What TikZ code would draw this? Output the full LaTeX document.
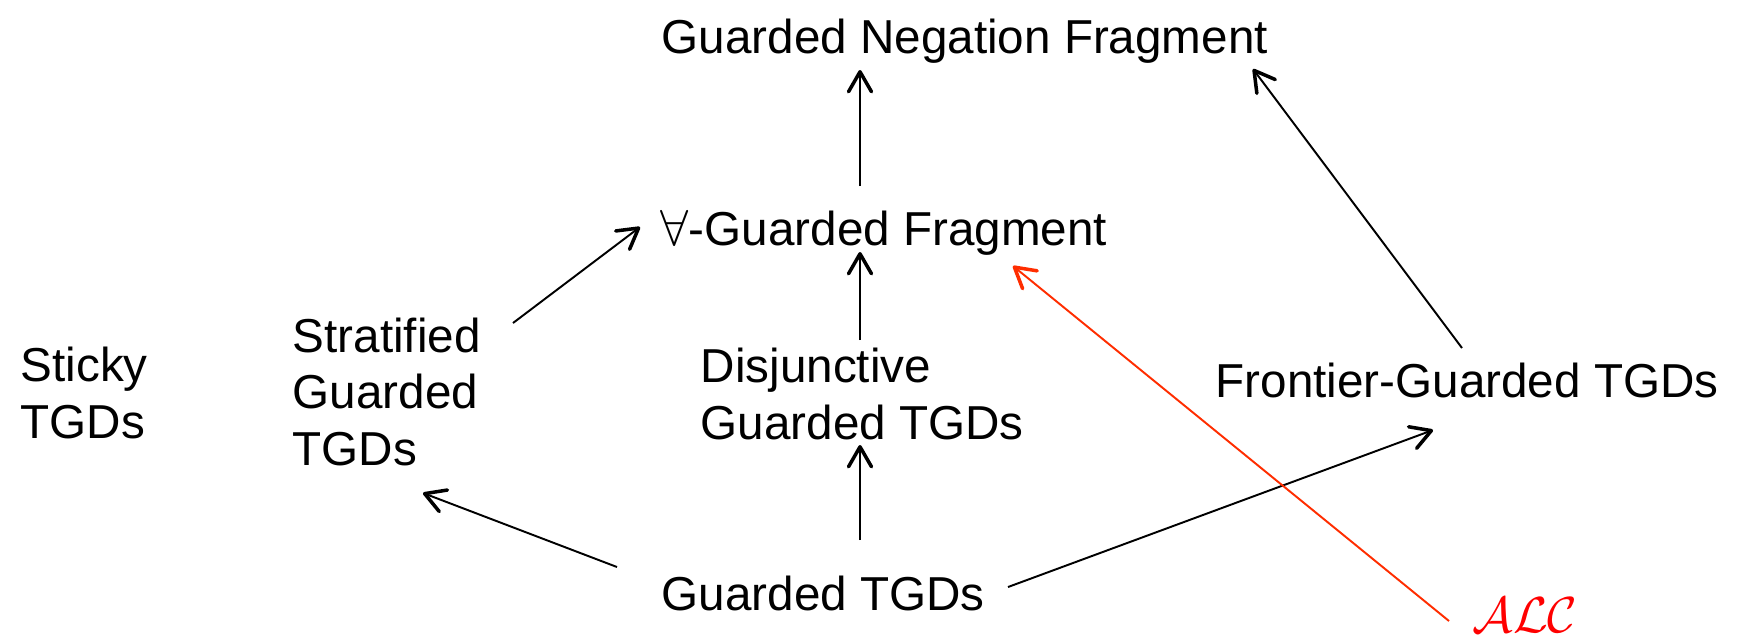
\documentclass[tikz,border=0pt]{standalone}
\usepackage{fontspec}
\setmainfont{Liberation Sans}
\usepackage{tikz}
\usetikzlibrary{arrows.meta,calc,positioning}
\definecolor{alcRed}{RGB}{255,0,0}
\definecolor{alcLine}{RGB}{255,45,0}
\tikzset{
    frag/.style={
        inner sep=0pt,
        anchor=base west,
        align=left,
        font=\fontsize{13.55}{16}\selectfont
    },
    % Arrows
    incl/.style={-{Straight Barb[length=2mm, width=2.3mm, line width=1pt, round]}, line width=0.55pt},
    alcArrow/.style={incl, draw=alcLine}
}
\begin{document}
\begin{tikzpicture}[x=0.1mm, y=-0.1mm]
\useasboundingbox (0,0) rectangle (1737,642);

% Fragments (base = last line)
\node[frag] (gnf) at (661, 53) {Guarded Negation Fragment};
\node[frag] (fagf) at (660, 245) {$\forall$-Guarded Fragment};
\node[frag] (sticky) at (20, 438) {Sticky\\TGDs};
\node[frag] (strat) at (292, 465) {Stratified\\Guarded\\TGDs};
\node[frag] (disj) at (700, 439) {Disjunctive\\Guarded TGDs};
\node[frag] (front) at (1215, 397) {Frontier-Guarded TGDs};
\node[frag] (gtgd) at (661, 610) {Guarded TGDs};
\node[frag, text=alcRed] (alc) at (1472, 632) {$\mathcal{ALC}$};

% Inclusions
\draw[incl] ($(gtgd.base west)+(-44,-43)$) -- ($(strat.base west)+(131,28)$);
\draw[incl] ($(gtgd.base west)+(199,-70)$) -- ($(disj.base west)+(160,6)$);
\draw[incl] ($(gtgd.base west)+(347,-23)$) -- ($(front.base west)+(218,33)$);
\draw[incl] ($(strat.base west)+(221,-142)$) -- ($(fagf.base west)+(-20,-18)$);
\draw[incl] ($(disj.base west)+(160,-99)$) -- ($(fagf.base west)+(200,7)$);
\draw[incl] ($(fagf.base west)+(200,-59)$) -- ($(gnf.base west)+(199,17)$);
\draw[incl] ($(front.base west)+(247,-49)$) -- ($(gnf.base west)+(592,16)$);
\draw[alcArrow] ($(alc.base west)+(-23,-11)$) -- ($(fagf.base west)+(353,21)$);
\end{tikzpicture}
\end{document}
